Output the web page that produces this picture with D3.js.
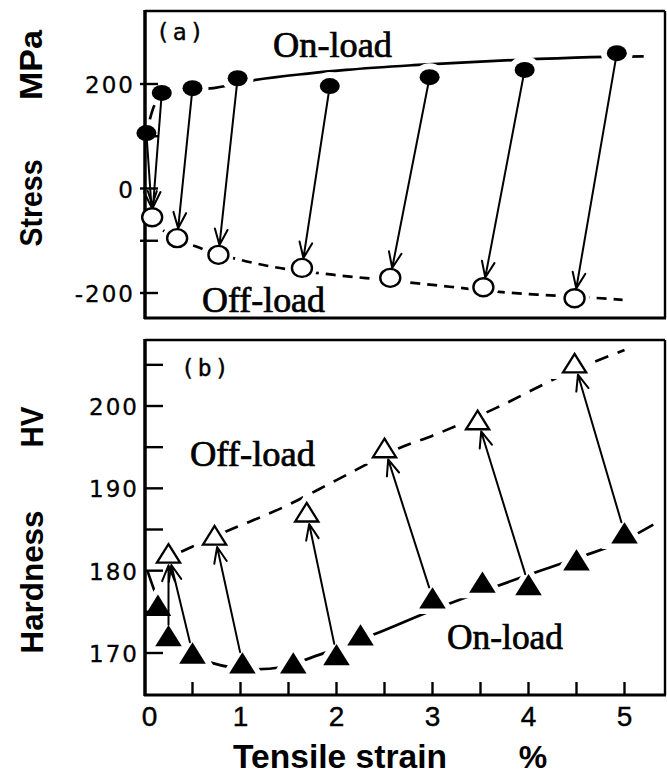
<!DOCTYPE html>
<html><head><meta charset="utf-8">
<script src="https://cdn.jsdelivr.net/npm/d3@7"></script>
<style>body{margin:0;background:#fff}svg{display:block}</style>
</head><body><svg id="c" width="667" height="779"></svg>
<script>
// ---------- data ----------
const strainTickLabels = [0,1,2,3,4,5];
const strainTicks = [0.5,1,1.5,2,2.5,3,3.5,4,4.5,5];
const stressTickLabels = [200,0,-200];
const stressTicks = [200,100,0,-100,-200];
const hvTickLabels = [200,190,180,170];
const hvTicks = [205,200,195,190,185,180,175,170];

// (a) stress, MPa vs strain, %
const onLoadStress  = [[0.02,106],[0.18,183],[0.5,192],[0.97,211],[1.93,196],[2.97,213],[3.96,227],[4.92,259]];
const offLoadStress = [[0.08,-55],[0.34,-95],[0.77,-127],[1.64,-152],[2.56,-171],[3.53,-189],[4.48,-210]];
const onLoadStressFit  = [[0.02,106],[0.1,158],[0.2,178],[0.4,186],[0.75,193],[1.1,206],[1.7,220],[2.1,227],[2.8,236],[3.5,243],[4.1,248],[4.8,252],[5.2,253]];
const offLoadStressFit = [[0.08,-55],[0.19,-79],[0.58,-114],[0.92,-133],[1.34,-150],[1.96,-165],[2.5,-175],[3.18,-188],[3.7,-198],[4.09,-203],[4.66,-209],[4.98,-213]];
const stressArrows = [[0,0],[1,0],[2,1],[3,2],[4,3],[5,4],[6,5],[7,6]];

// (b) hardness, HV vs strain, %
const onLoadHV  = [[0.14,175.8],[0.25,172.1],[0.5,170.0],[1.02,168.8],[1.55,168.8],[2.0,169.8],[2.25,172.2],[3.0,176.7],[3.52,178.6],[4.0,178.3],[4.5,181.3],[5.0,184.6]];
const offLoadHV = [[0.25,182.1],[0.73,184.3],[1.69,187.1],[2.5,194.9],[3.47,198.3],[4.48,205.2]];
const onLoadHVFit  = [[0.03,180],[0.16,175.8],[0.4,170.6],[0.7,168.8],[1.15,168],[1.45,168.3],[1.75,169.5],[2.0,170.5],[2.4,172.3],[3.0,175.2],[3.5,177.4],[4.0,179.5],[4.5,181.5],[5.0,183.7],[5.3,185.6]];
const offLoadHVFit = [[0.15,181.2],[0.4,182.4],[0.8,184.5],[1.5,188],[2.0,191],[2.7,195.1],[3.0,196.4],[3.67,199.8],[4.33,203.6],[5.0,206.8]];
const hvArrows = [[1,0],[2,0],[3,1],[5,2],[7,3],[9,4],[11,5]];

// ---------- layout ----------
const svg = d3.select("#c");
const FL = 145, FR = 665;
const x = d3.scaleLinear().domain([0,5]).range([144.5,624.5]);
const yS = d3.scaleLinear().domain([-200,200]).range([293,84]);
const yH = d3.scaleLinear().domain([170,200]).range([653,406]);
const topBox = {t:11, b:318}, botBox = {t:340, b:695};

const tri = {draw(ctx, size){ const w = Math.sqrt(size*2/0.8), h = 0.8*w;
  ctx.moveTo(0,-h/2); ctx.lineTo(w/2,h/2); ctx.lineTo(-w/2,h/2); ctx.closePath(); }};

function fitLine(g, data, y, dash){
  g.append("path").datum(data)
    .attr("d", d3.line().x(d=>x(d[0])).y(d=>y(d[1])).curve(d3.curveMonotoneX))
    .attr("fill","none").attr("stroke","#000").attr("stroke-width",2.7)
    .attr("stroke-dasharray", dash || null);
}
function arrow(g, x1,y1,x2,y2,s0,s1){
  const dx=x2-x1, dy=y2-y1, L=Math.hypot(dx,dy), ux=dx/L, uy=dy/L;
  const ax=x1+ux*s0, ay=y1+uy*s0, bx=x2-ux*s1, by=y2-uy*s1;
  const hl=17, a=22*Math.PI/180;
  const p = d3.path();
  p.moveTo(ax,ay); p.lineTo(bx,by);
  for (const s of [-1,1]){
    const c=Math.cos(s*a), sn=Math.sin(s*a);
    const rx = -(ux*c - uy*sn), ry = -(ux*sn + uy*c);
    p.moveTo(bx,by); p.lineTo(bx+rx*hl, by+ry*hl);
  }
  g.append("path").attr("d",p.toString()).attr("fill","none")
    .attr("stroke","#000").attr("stroke-width",2).attr("stroke-linecap","round");
}
function frame(g, box, leftW){
  g.append("line").attr("x1",FL).attr("x2",FR).attr("y1",box.t).attr("y2",box.t).attr("stroke","#000").attr("stroke-width",2.4);
  g.append("line").attr("x1",FR).attr("x2",FR).attr("y1",box.t).attr("y2",box.b).attr("stroke","#000").attr("stroke-width",2.4);
  g.append("line").attr("x1",FL-1).attr("x2",FR+1).attr("y1",box.b).attr("y2",box.b).attr("stroke","#000").attr("stroke-width",2.8);
  g.append("line").attr("x1",FL).attr("x2",FL).attr("y1",box.t-1).attr("y2",box.b+1).attr("stroke","#000").attr("stroke-width",leftW);
}
function serif(g, txt, x0, y0, len){
  g.append("text").attr("x",x0).attr("y",y0).attr("font-family","Liberation Serif")
    .attr("font-size",35).attr("textLength",len).attr("lengthAdjust","spacingAndGlyphs")
    .attr("stroke","#000").attr("stroke-width",0.7).text(txt);
}

// ================= panel (a) =================
const ga = svg.append("g");
fitLine(ga, onLoadStressFit, yS);
fitLine(ga, offLoadStressFit, yS, "10 7");
ga.selectAll(".ho").data(onLoadStress).join("ellipse")
  .attr("cx",d=>x(d[0])).attr("cy",d=>yS(d[1])).attr("rx",16).attr("ry",14).attr("fill","#fff");
ga.selectAll(".hf").data(offLoadStress).join("ellipse")
  .attr("cx",d=>x(d[0])).attr("cy",d=>yS(d[1])).attr("rx",15).attr("ry",14).attr("fill","#fff");
frame(ga, topBox, 3.5);
ga.selectAll(".tk").data(stressTicks).join("line")
  .attr("x1",140).attr("x2",158).attr("y1",d=>yS(d)).attr("y2",d=>yS(d))
  .attr("stroke","#000").attr("stroke-width",2.4);
ga.selectAll(".tl").data(stressTickLabels).join("text")
  .attr("x",135).attr("y",d=>yS(d)+9).attr("text-anchor","end")
  .attr("font-family","DejaVu Sans").attr("font-size",23).attr("letter-spacing",2)
  .attr("stroke","#000").attr("stroke-width",0.3)
  .text(d=>d);
stressArrows.forEach(([i,j])=>{
  arrow(ga, x(onLoadStress[i][0]), yS(onLoadStress[i][1]), x(offLoadStress[j][0]), yS(offLoadStress[j][1]), 8, 10);
});
ga.selectAll(".on").data(onLoadStress).join("ellipse")
  .attr("cx",d=>x(d[0])).attr("cy",d=>yS(d[1])).attr("rx",10).attr("ry",8).attr("fill","#000");
ga.selectAll(".off").data(offLoadStress).join("ellipse")
  .attr("cx",d=>x(d[0])).attr("cy",d=>yS(d[1])).attr("rx",10).attr("ry",9)
  .attr("fill","#fff").attr("stroke","#000").attr("stroke-width",2.4);
ga.append("text").attr("x",156).attr("y",40).attr("font-family","DejaVu Sans Mono")
  .attr("font-size",23).attr("letter-spacing",3).attr("stroke","#000").attr("stroke-width",0.4).text("(a)");
serif(ga, "On-load", 273, 57, 119);
serif(ga, "Off-load", 202, 312, 123);

// ================= panel (b) =================
const gb = svg.append("g");
const triPath = d3.symbol().type(tri);
fitLine(gb, onLoadHVFit, yH);
fitLine(gb, offLoadHVFit, yH, "14 10");
gb.selectAll(".ho").data(onLoadHV).join("path")
  .attr("transform",d=>`translate(${x(d[0])},${yH(d[1])})`).attr("d",triPath.size(283)())
  .attr("fill","#fff").attr("stroke","#fff").attr("stroke-width",11);
gb.selectAll(".hf").data(offLoadHV).join("path")
  .attr("transform",d=>`translate(${x(d[0])},${yH(d[1])})`).attr("d",triPath.size(235)())
  .attr("fill","#fff").attr("stroke","#fff").attr("stroke-width",12);
frame(gb, botBox, 3.5);
gb.selectAll(".tk").data(hvTicks).join("line")
  .attr("x1",FL).attr("x2",163).attr("y1",d=>yH(d)).attr("y2",d=>yH(d))
  .attr("stroke","#000").attr("stroke-width",2.4);
gb.selectAll(".xt").data(strainTicks).join("line")
  .attr("x1",d=>x(d)).attr("x2",d=>x(d)).attr("y1",botBox.b).attr("y2",botBox.b-13)
  .attr("stroke","#000").attr("stroke-width",2.4);
gb.selectAll(".tl").data(hvTickLabels).join("text")
  .attr("x",139).attr("y",d=>yH(d)+9).attr("text-anchor","end")
  .attr("font-family","DejaVu Sans").attr("font-size",23).attr("letter-spacing",2)
  .attr("stroke","#000").attr("stroke-width",0.3)
  .text(d=>d);
gb.selectAll(".xl").data(strainTickLabels).join("text")
  .attr("x",d=>x(d)+(d===0?5:0)).attr("y",726).attr("text-anchor","middle")
  .attr("font-family","Liberation Sans").attr("font-size",28)
  .attr("stroke","#000").attr("stroke-width",0.4)
  .text(d=>d);
hvArrows.forEach(([i,j])=>{
  arrow(gb, x(onLoadHV[i][0]), yH(onLoadHV[i][1]), x(offLoadHV[j][0]), yH(offLoadHV[j][1]), 11, 12);
});
gb.selectAll(".on").data(onLoadHV).join("path")
  .attr("transform",d=>`translate(${x(d[0])},${yH(d[1])})`).attr("d",triPath.size(283)())
  .attr("fill","#000");
gb.selectAll(".off").data(offLoadHV).join("path")
  .attr("transform",d=>`translate(${x(d[0])},${yH(d[1])})`).attr("d",triPath.size(215)())
  .attr("fill","#fff").attr("stroke","#000").attr("stroke-width",2.3).attr("stroke-linejoin","miter");
gb.append("text").attr("x",181).attr("y",376).attr("font-family","DejaVu Sans Mono")
  .attr("font-size",23).attr("letter-spacing",3).attr("stroke","#000").attr("stroke-width",0.4).text("(b)");
serif(gb, "Off-load", 190, 466, 125);
serif(gb, "On-load", 447, 649, 116);

// ================= axis titles =================
function vtitle(txt, bx, cy, len){
  svg.append("text").attr("transform",`translate(${bx},${cy}) rotate(-90)`)
    .attr("text-anchor","middle").attr("font-family","Liberation Sans").attr("font-weight","bold")
    .attr("font-size",31).attr("textLength",len).attr("lengthAdjust","spacingAndGlyphs").text(txt);
}
vtitle("MPa", 42, 65, 70);
vtitle("Stress", 42, 203, 87);
vtitle("HV", 43, 427, 41);
vtitle("Hardness", 43, 582, 143);
svg.append("text").attr("x",233).attr("y",768).attr("font-family","Liberation Sans").attr("font-weight","bold")
  .attr("font-size",34).attr("textLength",214).attr("lengthAdjust","spacingAndGlyphs").text("Tensile strain");
svg.append("text").attr("x",533).attr("y",768).attr("text-anchor","middle").attr("font-family","Liberation Sans")
  .attr("font-weight","bold").attr("font-size",32).text("%");
</script></body></html>
